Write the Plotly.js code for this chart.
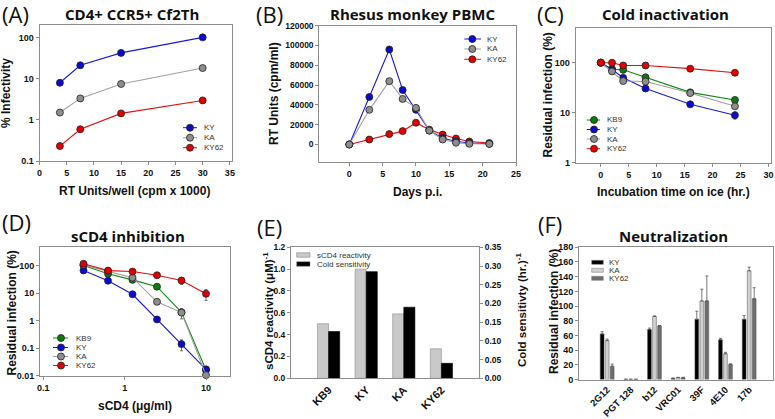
<!DOCTYPE html>
<html><head><meta charset="utf-8">
<script src="https://cdn.plot.ly/plotly-3.0.1.min.js"></script>
<style>html,body{margin:0;padding:0;background:#fff}#chart{width:775px;height:419px}</style>
</head><body><div id="chart"></div>
<script>
// ---------- DATA ----------
// (A) CD4+ CCR5+ Cf2Th
const aRT = [3.75, 7.5, 15, 30];
const aKY = [7.9, 21, 42, 100];
const aKA = [1.5, 3.3, 7.4, 18];
const aKY62 = [0.23, 0.59, 1.43, 2.95];
// (B) Rhesus monkey PBMC
const bDays = [0, 3, 6, 8, 10, 12, 14, 16, 18, 21];
const bKY = [0, 48000, 96000, 55000, 35000, 14000, 6500, 3000, 1500, 800];
const bKA = [0, 35000, 64000, 46000, 37000, 14000, 5000, 1800, 700, 500];
const bKY62 = [0, 5000, 10500, 13500, 22000, 15000, 10000, 6000, 3000, 1500];
// (C) Cold inactivation
const cTime = [0, 2, 4, 8, 16, 24];
const cKB9 = [100, 74, 72, 51, 25.5, 18];
const cKY = [100, 73, 50, 30.5, 14.7, 8.9];
const cKA = [100, 67, 43, 42, 24.7, 13.4];
const cKY62 = [100, 100, 88, 88, 76, 63];
const cKYerr = [0, 0, 2, 1.5, 1, 1.5];
// (D) sCD4 inhibition
const dSCD4 = [0.3125, 0.625, 1.25, 2.5, 5, 10];
const dKB9 = [100, 50, 30, 17, 2.0, 0.016];
const dKY = [66, 28, 9, 1.1, 0.14, 0.017];
const dKA = [105, 62, 36, 4.8, 1.95, 0.0105];
const dKY62 = [115, 65, 60, 44, 28.5, 9.4];
const dKYerr = [0, 0, 0, 0, 0.06, 0];
const dKAerr = [0, 0, 0, 0.5, 0.8, 0];
const dKY62err = [0, 0, 0, 5, 8, 4];
// (E) sCD4 reactivity vs cold sensitivity
const eStrains = ['KB9', 'KY', 'KA', 'KY62'];
const eSCD4 = [0.50, 1.00, 0.59, 0.27];
const eCold = [0.125, 0.285, 0.19, 0.04];
// (F) Neutralization
const fAbs = ['2G12', 'PGT 128', 'b12', 'VRC01', '39F', '4E10', '17b'];
const fKY = [62, 0.3, 68, 1.5, 82, 54, 82];
const fKYerr = [3, 0, 2, 0.5, 11, 2, 5];
const fKA = [53, 0.3, 86, 2.5, 107, 35, 148];
const fKAerr = [2, 0, 0.5, 0.5, 16, 2, 5];
const fKY62 = [18, 0.3, 73, 2.5, 107, 20.7, 110];
const fKY62err = [3, 0, 0.5, 0.5, 34, 0.5, 15];

// ---------- STYLE / LAYOUT ----------
const W = 775, H = 419;
const px = p => p / W, py = p => 1 - p / H;
const P = {
  A: {l: 39.5, r: 231.5, t: 25, b: 161},
  B: {l: 319.3, r: 516, t: 25.7, b: 162.3},
  C: {l: 575.7, r: 770.7, t: 27.7, b: 162.7},
  D: {l: 40, r: 230, t: 246.7, b: 375.7},
  E: {l: 291, r: 479, t: 247.3, b: 378.3},
  F: {l: 579, r: 773.3, t: 247.3, b: 379.5}
};
const COL = {KY: '#0a0ad2', KA: '#8e8e8e', KY62: '#e40000', KB9: '#0b7d0b'};
const LINECOL = {KY: '#1a1ad8', KA: '#a0a0a0', KY62: '#e21010', KB9: '#138a13'};
const ARIAL = 'Liberation Sans, Arial, sans-serif';
const CAL = 'Open Sans, Lato, sans-serif';

function xd(k) { return [px(P[k].l), px(P[k].r)]; }
function yd(k) { return [py(P[k].b), py(P[k].t)]; }
const axBase = () => ({
  showline: true, mirror: true, linecolor: '#8c8c8c', linewidth: 1,
  ticks: 'outside', ticklen: 3, tickcolor: '#8c8c8c', tickwidth: 1,
  tickfont: {family: ARIAL, size: 9, weight: 'bold', color: '#111'},
  showgrid: false, zeroline: false, fixedrange: true
});
function ax(extra) { return Object.assign(axBase(), extra); }

function lineTrace(x, y, name, xa, ya, err) {
  const t = {
    x: x, y: y, name: name, type: 'scatter', mode: 'lines+markers',
    xaxis: xa, yaxis: ya, showlegend: false, cliponaxis: false,
    line: {color: LINECOL[name], width: 1.1},
    marker: {color: COL[name], size: 7, line: {color: '#222', width: 0.8}}
  };
  if (err) t.error_y = {type: 'data', array: err, color: '#555', thickness: 0.8, width: 1.5};
  return t;
}

const traces = [
  lineTrace(aRT, aKY, 'KY', 'x', 'y'),
  lineTrace(aRT, aKA, 'KA', 'x', 'y'),
  lineTrace(aRT, aKY62, 'KY62', 'x', 'y'),
  lineTrace(bDays, bKY62, 'KY62', 'x2', 'y2'),
  lineTrace(bDays, bKY, 'KY', 'x2', 'y2'),
  lineTrace(bDays, bKA, 'KA', 'x2', 'y2'),
  lineTrace(cTime, cKB9, 'KB9', 'x3', 'y3'),
  lineTrace(cTime, cKY, 'KY', 'x3', 'y3', cKYerr),
  lineTrace(cTime, cKA, 'KA', 'x3', 'y3'),
  lineTrace(cTime, cKY62, 'KY62', 'x3', 'y3'),
  lineTrace(dSCD4, dKB9, 'KB9', 'x4', 'y4'),
  lineTrace(dSCD4, dKY, 'KY', 'x4', 'y4', dKYerr),
  lineTrace(dSCD4, dKA, 'KA', 'x4', 'y4', dKAerr),
  lineTrace(dSCD4, dKY62, 'KY62', 'x4', 'y4', dKY62err),
  {x: eStrains, y: eSCD4, name: 'sCD4 reactivity', type: 'bar', xaxis: 'x5', yaxis: 'y5',
   offsetgroup: '1', showlegend: false, marker: {color: '#c9c9c9', line: {color: '#8a8a8a', width: 0.6}}},
  {x: eStrains, y: eCold, name: 'Cold sensitivity', type: 'bar', xaxis: 'x5', yaxis: 'y7',
   offsetgroup: '2', showlegend: false, marker: {color: '#000', line: {color: '#000', width: 0.6}}}
];
const fSeries = [
  {name: 'KY', y: fKY, e: fKYerr, c: '#000000', off: -0.292},
  {name: 'KA', y: fKA, e: fKAerr, c: '#cfcfcf', off: -0.08},
  {name: 'KY62', y: fKY62, e: fKY62err, c: '#6e6e6e', off: 0.132}
];
fSeries.forEach(s => traces.push({
  x: fAbs, y: s.y, name: s.name, type: 'bar', xaxis: 'x6', yaxis: 'y6', showlegend: false,
  width: 0.16, offset: s.off,
  marker: {color: s.c, line: {color: '#555', width: 0.5}},
  error_y: {type: 'data', symmetric: false, array: s.e, arrayminus: s.e.map(() => 0),
            color: '#555', thickness: 0.8, width: 1.5}
}));

// ---------- ANNOTATIONS ----------
const ann = [];
function txt(text, x, y, size, opts) {
  ann.push(Object.assign({
    text: text, x: px(x), y: py(y), xref: 'paper', yref: 'paper', showarrow: false,
    xanchor: 'center', yanchor: 'middle',
    font: {family: ARIAL, size: size, color: '#111', weight: 'bold'}
  }, opts || {}));
}
// panel labels
[['(A)', 15, 14], ['(B)', 269, 14.5], ['(C)', 550, 14.5], ['(D)', 16, 222], ['(E)', 269, 227], ['(F)', 550, 224]]
  .forEach(l => txt(l[0], l[1], l[2], 22, {font: {family: CAL, size: 22, color: '#111', weight: 'normal'}}));
// titles
[['CD4+ CCR5+ Cf2Th', 131.7, 13.5], ['Rhesus monkey PBMC', 412.5, 14], ['Cold inactivation', 665, 14],
 ['sCD4 inhibition', 128, 236], ['Neutralization', 673, 236]]
  .forEach(l => txt(l[0], l[1], l[2], 15, {font: {family: CAL, size: 15, color: '#111', weight: 'bold'}}));
// axis titles
txt('RT Units/well (cpm x 1000)', 134.5, 191, 12);
txt('% Infectivity', 6, 93, 12, {textangle: -90});
txt('Days p.i.', 417, 192, 12);
txt('RT Units (cpm/ml)', 274, 94, 12, {textangle: -90});
txt('Incubation time on ice (hr.)', 673, 192, 12);
txt('Residual infection (%)', 547.5, 95, 12, {textangle: -90});
txt('sCD4 (μg/ml)', 135, 406, 12);
txt('Residual infection (%)', 11.5, 313, 12, {textangle: -90});
txt('sCD4 reactivity (μM)<sup>-1</sup>', 268, 311, 11.5, {textangle: -90});
txt('Cold sensitivty (hr.)<sup>-1</sup>', 521, 310, 11.5, {textangle: -90});
txt('Residual infection (%)', 554, 312, 12, {textangle: -90});

// ---------- LEGENDS (shapes + text) ----------
const shapes = [];
function lineLegend(names, x0, x1, xm, xt, ys) {
  names.forEach((n, i) => {
    shapes.push({type: 'line', xref: 'paper', yref: 'paper', x0: px(x0), x1: px(x1), y0: py(ys[i]), y1: py(ys[i]),
                 line: {color: LINECOL[n], width: 1}});
    shapes.push({type: 'circle', xref: 'paper', yref: 'paper', xsizemode: 'pixel', ysizemode: 'pixel',
                 xanchor: px(xm), yanchor: py(ys[i]), x0: -3.5, x1: 3.5, y0: -3.5, y1: 3.5,
                 fillcolor: COL[n], line: {color: '#222', width: 0.8}});
    txt(n, xt, ys[i], 8, {xanchor: 'left', font: {family: ARIAL, size: 8, color: '#333', weight: 'normal'}});
  });
}
function boxLegend(items, x0, x1, xt, ys, h) {
  items.forEach((it, i) => {
    shapes.push({type: 'rect', xref: 'paper', yref: 'paper', x0: px(x0), x1: px(x1),
                 y0: py(ys[i] + h / 2), y1: py(ys[i] - h / 2), fillcolor: it[1], line: {color: '#777', width: 0.5}});
    txt(it[0], xt, ys[i], 8, {xanchor: 'left', font: {family: ARIAL, size: 8, color: '#333', weight: 'normal'}});
  });
}
lineLegend(['KY', 'KA', 'KY62'], 183, 197, 190, 201.7, [127.7, 137.7, 147.7]);
lineLegend(['KY', 'KA', 'KY62'], 464.3, 481, 472.3, 485, [39, 49, 59.3]);
lineLegend(['KB9', 'KY', 'KA', 'KY62'], 586.7, 600, 594, 604.7, [120, 129.5, 139, 148.7]);
lineLegend(['KB9', 'KY', 'KA', 'KY62'], 53, 68, 61, 74, [338, 347.5, 356.5, 365.5]);
boxLegend([['sCD4 reactivity', '#c9c9c9'], ['Cold sensitivity', '#000']], 296.7, 310, 315, [255, 264], 4.5);
boxLegend([['KY', '#000'], ['KA', '#cfcfcf'], ['KY62', '#6e6e6e']], 591.7, 603.3, 606.7, [262.3, 270.3, 278.3], 4);

const layout = {
  width: W, height: H, margin: {l: 0, r: 0, t: 0, b: 0},
  paper_bgcolor: '#fff', plot_bgcolor: '#fff', showlegend: false,
  barmode: 'group', bargap: 0.41, bargroupgap: 0,
  xaxis: ax({domain: xd('A'), anchor: 'y', range: [0, 35.3], tick0: 0, dtick: 5}),
  yaxis: ax({domain: yd('A'), anchor: 'x', type: 'log', range: [-1, 2.3],
             tickvals: [0.1, 1, 10, 100], ticktext: ['0.1', '1', '10', '100']}),
  xaxis2: ax({domain: xd('B'), anchor: 'y2', range: [-4.5, 25], tick0: 0, dtick: 5}),
  yaxis2: ax({domain: yd('B'), anchor: 'x2', range: [-18000, 120000], tick0: 0, dtick: 20000, tickformat: 'd',
              tickfont: {family: ARIAL, size: 8.5, weight: 'bold', color: '#111'}}),
  xaxis3: ax({domain: xd('C'), anchor: 'y3', range: [-4.5, 30.4], tick0: 0, dtick: 5}),
  yaxis3: ax({domain: yd('C'), anchor: 'x3', type: 'log', range: [0, 2.7],
              tickvals: [1, 10, 100], ticktext: ['1', '10', '100']}),
  xaxis4: ax({domain: xd('D'), anchor: 'y4', type: 'log', range: [-1.04, 1.295],
              tickvals: [0.1, 1, 10], ticktext: ['0.1', '1', '10']}),
  yaxis4: ax({domain: yd('D'), anchor: 'x4', type: 'log', range: [-2, 2.68],
              tickvals: [0.01, 0.1, 1, 10, 100], ticktext: ['0.01', '0.1', '1', '10', '100']}),
  xaxis5: ax({domain: xd('E'), anchor: 'y5', type: 'category', range: [-1, 4], ticks: '', tickangle: -45,
              tickfont: {family: ARIAL, size: 11, weight: 'bold', color: '#111'}}),
  yaxis5: ax({domain: yd('E'), anchor: 'x5', range: [0, 1.2], tick0: 0, dtick: 0.2, tickformat: '.1f',
              tickfont: {family: ARIAL, size: 8.5, weight: 'bold', color: '#111'}}),
  yaxis7: ax({overlaying: 'y5', anchor: 'x5', side: 'right', range: [0, 0.35], tick0: 0, dtick: 0.05,
              tickformat: '.2f', mirror: false,
              tickfont: {family: ARIAL, size: 8.5, weight: 'bold', color: '#111'}}),
  xaxis6: ax({domain: xd('F'), anchor: 'y6', type: 'category', range: [-1.19, 7.02], ticks: '', tickangle: -45,
              tickfont: {family: ARIAL, size: 9.5, weight: 'bold', color: '#111'}}),
  yaxis6: ax({domain: yd('F'), anchor: 'x6', range: [0, 180], tick0: 0, dtick: 20}),
  annotations: ann, shapes: shapes
};
Plotly.newPlot('chart', traces, layout, {staticPlot: true, displayModeBar: false});
</script></body></html>
